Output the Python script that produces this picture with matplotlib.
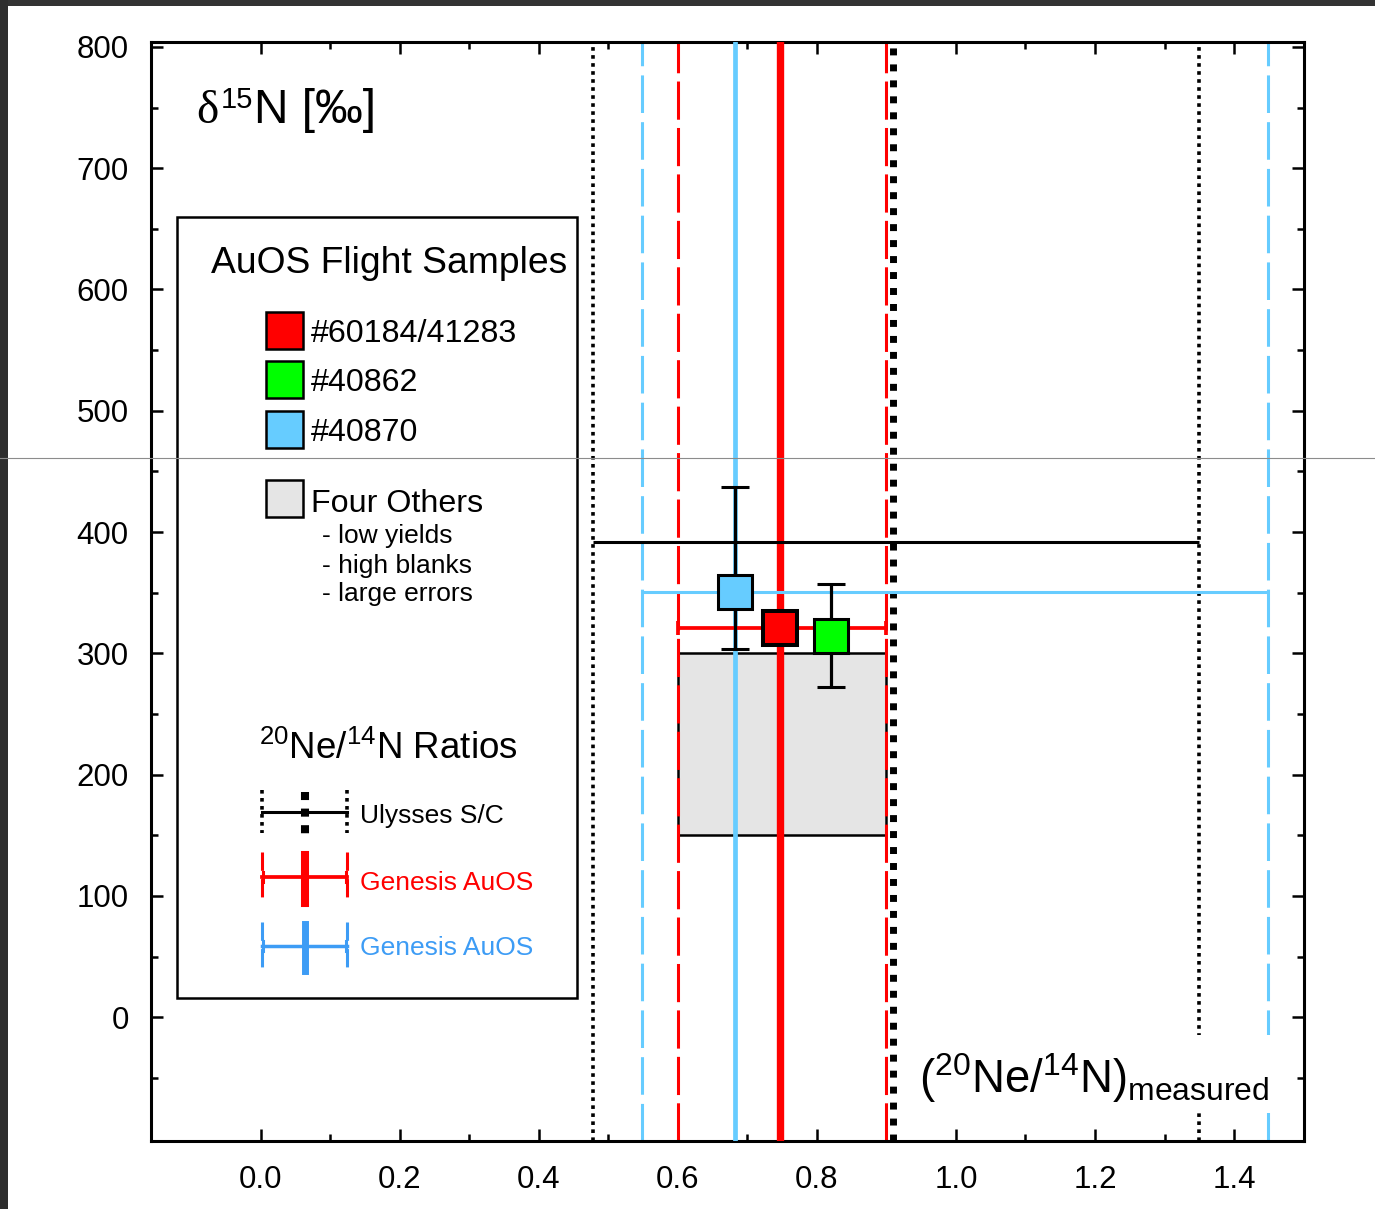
import matplotlib
matplotlib.use('Agg')
import matplotlib.pyplot as plt
from matplotlib.patches import Rectangle
from matplotlib.lines import Line2D
import numpy as np

plt.rcParams['font.family'] = ['Liberation Sans', 'DejaVu Sans']
plt.rcParams['mathtext.fontset'] = 'custom'
plt.rcParams['mathtext.rm'] = 'Liberation Sans'
plt.rcParams['mathtext.it'] = 'Liberation Sans:italic'
plt.rcParams['mathtext.bf'] = 'Liberation Sans:bold'

# ---------------- data ----------------
sample_names = ['#60184/41283', '#40862', '#40870']
sample_ratio = [0.747, 0.820, 0.682]
sample_d15n = [321, 314, 351]
sample_err_lo = [0, 272, 304]      # lower end of d15N error bar
sample_err_hi = [0, 357, 437]      # upper end of d15N error bar
sample_colors = ['#ff0000', '#00ff00', '#66ccff']

others_ratio = [0.60, 0.90]
others_d15n = [150, 300]
others_color = '#e5e5e5'

ulysses_ratio = 0.91
ulysses_range = [0.478, 1.35]
ulysses_d15n = 392

genesis_red_ratio = 0.747
genesis_red_range = [0.60, 0.90]
genesis_red_d15n = 321

genesis_blue_ratio = 0.682
genesis_blue_range = [0.549, 1.449]
genesis_blue_d15n = 351

xticks = [0.0, 0.2, 0.4, 0.6, 0.8, 1.0, 1.2, 1.4]
xticklabels = ['0.0', '0.2', '0.4', '0.6', '0.8', '1.0', '1.2', '1.4']
xminor = [0.1, 0.3, 0.5, 0.7, 0.9, 1.1, 1.3]
yticks = [0, 100, 200, 300, 400, 500, 600, 700, 800]
yticklabels = ['0', '100', '200', '300', '400', '500', '600', '700', '800']
yminor = [-50, 50, 150, 250, 350, 450, 550, 650, 750]

legend_blue = '#3d9cf5'
light_blue = '#66ccff'

# ---------------- figure ----------------
W, H = 1375, 1209
fig = plt.figure(figsize=(W / 100, H / 100), dpi=100)
fig.patch.set_facecolor('white')


def fx(px):
    return px / W


def fy(py):
    return 1 - py / H


ax = fig.add_axes([fx(151), fy(1141), fx(1304) - fx(151), fy(42) - fy(1141)])
ax.set_xlim(-0.1575, 1.5006)
ax.set_ylim(-102, 804)

# box of the four others
ax.add_patch(Rectangle((others_ratio[0], others_d15n[0]),
                       others_ratio[1] - others_ratio[0],
                       others_d15n[1] - others_d15n[0],
                       facecolor=others_color, edgecolor='black', lw=1.8, zorder=1))

# vertical ratio lines
ax.axvline(genesis_blue_range[0], color=light_blue, lw=2.2, dashes=(12.3, 3), zorder=2)
ax.axvline(genesis_blue_range[1], color=light_blue, lw=2.2, dashes=(12.3, 3), zorder=2)
ax.axvline(genesis_red_range[0], color='red', lw=2.2, dashes=(12.5, 2.7), zorder=2)
ax.axvline(genesis_red_range[1], color='red', lw=2.2, dashes=(12.5, 2.7), zorder=2)
ax.axvline(ulysses_range[0], color='black', lw=2.6, dashes=(1, 1.22), zorder=2)
ax.axvline(ulysses_range[1], color='black', lw=2.6, dashes=(1, 1.22), zorder=2)
ax.axvline(genesis_blue_ratio, color=light_blue, lw=3.4, zorder=3)
ax.axvline(genesis_red_ratio, color='red', lw=5.3, zorder=3)
ax.axvline(ulysses_ratio, color='black', lw=5.0, dashes=(1, 1.3), zorder=3)

# horizontal ranges
ax.hlines(ulysses_d15n, ulysses_range[0], ulysses_range[1], color='black', lw=2.2, zorder=3.5)
ax.hlines(genesis_blue_d15n, genesis_blue_range[0], genesis_blue_range[1],
          color=light_blue, lw=2.2, zorder=3.5)
ax.errorbar([genesis_red_ratio], [genesis_red_d15n],
            xerr=[[genesis_red_ratio - genesis_red_range[0]],
                  [genesis_red_range[1] - genesis_red_ratio]],
            fmt='none', ecolor='red', elinewidth=2.7, capsize=4.7, capthick=2.7, zorder=3.6)

# samples
for i in range(3):
    if i == 0:
        ax.plot([sample_ratio[i]], [sample_d15n[i]], marker='s', ms=23.8,
                mfc=sample_colors[i], mec='black', mew=2.9, ls='none', zorder=5)
    else:
        ax.errorbar([sample_ratio[i]], [sample_d15n[i]],
                    yerr=[[sample_d15n[i] - sample_err_lo[i]],
                          [sample_err_hi[i] - sample_d15n[i]]],
                    fmt='s', ms=23.8, mfc=sample_colors[i], mec='black', mew=2.2,
                    ecolor='black', elinewidth=2.3, capsize=10, capthick=2.2, zorder=5)

# ticks / spines
ax.set_xticks(xticks)
ax.set_xticklabels(xticklabels)
ax.set_xticks(xminor, minor=True)
ax.set_yticks(yticks)
ax.set_yticklabels(yticklabels)
ax.set_yticks(yminor, minor=True)
ax.tick_params(which='both', direction='in', top=True, right=True, width=1.8, colors='black')
ax.tick_params(which='major', length=8.6, labelsize=22.5)
ax.tick_params(which='minor', length=5)
ax.tick_params(axis='y', which='major', pad=16)
ax.tick_params(axis='x', which='major', pad=17)
for s in ax.spines.values():
    s.set_linewidth(2.2)

# ---------------- figure-level annotations ----------------
# y-axis label (delta 15N)
fig.text(fx(196), fy(123), 'δ', fontsize=34, family=['Liberation Serif', 'DejaVu Serif'], va='baseline', ha='left')
fig.text(fx(221), fy(108), '15', fontsize=21, va='baseline', ha='left')
fig.text(fx(254), fy(123), 'N [‰]', fontsize=34.5, va='baseline', ha='left')

# x-axis label with white background
fig.add_artist(Rectangle((fx(900), fy(1113)), fx(1290) - fx(900), fy(1035) - fy(1113),
                         transform=fig.transFigure, facecolor='white', edgecolor='none', zorder=5))
fig.text(fx(919), fy(1093), r'($^{20}$Ne/$^{14}$N)$_{\mathrm{measured}}$', fontsize=32.8,
         va='baseline', ha='left', zorder=6)

# legend box
fig.add_artist(Rectangle((fx(177), fy(998)), fx(577) - fx(177), fy(217) - fy(998),
                         transform=fig.transFigure, facecolor='white', edgecolor='black',
                         lw=1.8, zorder=5))
fig.text(fx(211), fy(273), 'AuOS Flight Samples', fontsize=26.8, va='baseline', zorder=6)

sq_top = [312, 361, 411, 480]
sq_cols = sample_colors + [others_color]
for t, c in zip(sq_top, sq_cols):
    fig.add_artist(Rectangle((fx(266), fy(t + 37)), fx(303) - fx(266), fy(t) - fy(t + 37),
                             transform=fig.transFigure, facecolor=c, edgecolor='black',
                             lw=1.8, zorder=6))
for name, b in zip(sample_names, [342, 391, 441]):
    fig.text(fx(311), fy(b), name, fontsize=23.2, va='baseline', zorder=6)
fig.text(fx(311), fy(512), 'Four Others', fontsize=23.2, va='baseline', zorder=6)
for s, b in zip(['- low yields', '- high blanks', '- large errors'], [543, 573, 601]):
    fig.text(fx(322), fy(b), s, fontsize=19, va='baseline', zorder=6)

fig.text(fx(259), fy(759), r'$^{20}$Ne/$^{14}$N Ratios', fontsize=26.5, va='baseline', zorder=6)


def fline(xs, ys, **kw):
    fig.add_artist(Line2D([fx(v) for v in xs], [fy(v) for v in ys],
                          transform=fig.transFigure, zorder=7, **kw))


# Ulysses sample
fline([262, 262], [790, 833], color='black', lw=2.6, dashes=(1, 1.22))
fline([347, 347], [790, 833], color='black', lw=2.6, dashes=(1, 1.22))
fline([262, 347], [812, 812], color='black', lw=2.2)
fline([305, 305], [792, 834], color='black', lw=5.8, dashes=(1, 1.06))
fig.text(fx(360), fy(823), 'Ulysses S/C', fontsize=19, va='baseline', color='black', zorder=6)

# Genesis red sample
fline([262, 262], [852, 901], color='red', lw=2.2, dashes=(6, 2.7))
fline([347, 347], [852, 901], color='red', lw=2.2, dashes=(6, 2.7))
fline([262, 347], [877, 877], color='red', lw=2.7)
fline([263, 263], [872, 882], color='red', lw=2.2)
fline([346, 346], [872, 882], color='red', lw=2.2)
fline([305, 305], [855, 903], color='red', lw=5.8)
fig.text(fx(360), fy(890), 'Genesis AuOS', fontsize=19, va='baseline', color='red', zorder=6)

# Genesis blue sample
fline([262, 262], [922, 975], color=legend_blue, lw=2.2, dashes=(6, 2.7))
fline([347, 347], [922, 975], color=legend_blue, lw=2.2, dashes=(6, 2.7))
fline([262, 347], [946, 946], color=legend_blue, lw=2.5)
fline([263, 263], [941, 951], color=legend_blue, lw=2.2)
fline([346, 346], [941, 951], color=legend_blue, lw=2.2)
fline([305, 305], [924, 971], color=legend_blue, lw=5.0)
fig.text(fx(360), fy(955), 'Genesis AuOS', fontsize=19, va='baseline', color=legend_blue, zorder=6)

# dark frame at top / left and thin gray line across the figure
fig.add_artist(Rectangle((0, fy(6)), 1, fy(0) - fy(6), transform=fig.transFigure,
                         facecolor='#333333', edgecolor='none', zorder=9))
fig.add_artist(Rectangle((0, 0), fx(8), 1, transform=fig.transFigure,
                         facecolor='#2e2e2e', edgecolor='none', zorder=9))
fig.add_artist(Line2D([0, 1], [fy(458), fy(458)], transform=fig.transFigure,
                      color='#8c8c8c', lw=0.8, zorder=10))

fig.savefig('out.png', dpi=100, facecolor='white')
